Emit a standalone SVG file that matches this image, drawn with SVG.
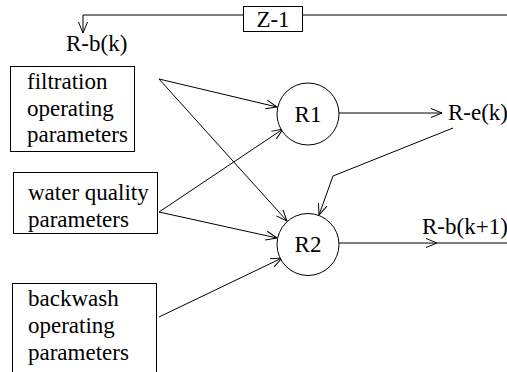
<svg xmlns="http://www.w3.org/2000/svg" width="507" height="372" viewBox="0 0 507 372" font-family="'Liberation Serif', 'DejaVu Serif', serif">
<style>
text{font-family:'Liberation Serif','DejaVu Serif',serif;font-size:23px;fill:#000}
.box{fill:#fff;stroke:#000;stroke-width:1}
.ln{fill:none;stroke:#000;stroke-width:1}
.arr{marker-end:url(#ah)}
</style>
<defs>
<marker id="ah" markerUnits="userSpaceOnUse" markerWidth="12" markerHeight="10" refX="11" refY="4.5" orient="auto" overflow="visible">
<path d="M0,0 L11,4.5 L0,9" fill="none" stroke="#000" stroke-width="1"/>
</marker>
</defs>
<g id="connectors">
<path class="ln arr" d="M507,15 H83 V33"/>
<path class="ln arr" d="M159,79 L277,107"/>
<path class="ln arr" d="M159,79 L287,221"/>
<path class="ln arr" d="M159,212 L283,129"/>
<path class="ln arr" d="M159,212 L277,238"/>
<path class="ln arr" d="M159,317 L282,258"/>
<path class="ln arr" d="M339,113 L442,113"/>
<path class="ln arr" d="M453,128 L333,176 L319,215"/>
<path class="ln arr" d="M339,243 L437,243"/>
<path class="ln" d="M437,243 L507,243"/>
</g>
<g id="z1">
<rect class="box" x="243.5" y="6.5" width="59" height="25"/>
<text x="273" y="27" text-anchor="middle">Z-1</text>
</g>
<g id="rbk">
<text x="66" y="51">R-b(k)</text>
</g>
<g id="filtration">
<rect class="box" x="10.5" y="66.5" width="124" height="85"/>
<text x="27" y="89">filtration</text>
<text x="27" y="116">operating</text>
<text x="27" y="142">parameters</text>
</g>
<g id="water">
<rect class="box" x="13.5" y="172.5" width="144" height="61"/>
<text x="28" y="200">water quality</text>
<text x="28" y="227">parameters</text>
</g>
<g id="backwash">
<rect class="box" x="12.5" y="283.5" width="144" height="100"/>
<text x="28" y="306">backwash</text>
<text x="28" y="333">operating</text>
<text x="28" y="360">parameters</text>
</g>
<g id="r1">
<circle class="box" cx="308" cy="114" r="31"/>
<text x="308" y="122" text-anchor="middle">R1</text>
</g>
<g id="r2">
<circle class="box" cx="308" cy="244.5" r="31"/>
<text x="308" y="252" text-anchor="middle">R2</text>
</g>
<g id="rek">
<text x="448" y="120">R-e(k)</text>
</g>
<g id="rbk1">
<text x="422" y="234">R-b(k+1)</text>
</g>
</svg>
